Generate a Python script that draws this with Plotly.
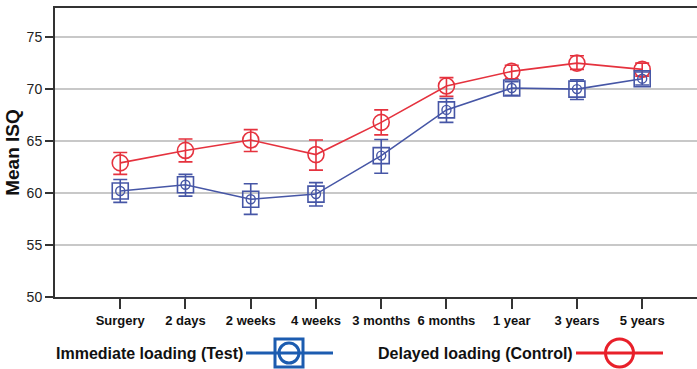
import plotly.graph_objects as go

categories = ["Surgery", "2 days", "2 weeks", "4 weeks", "3 months", "6 months", "1 year", "3 years", "5 years"]

delayed_mean = [62.9, 64.1, 65.1, 63.7, 66.8, 70.3, 71.7, 72.5, 71.9]
delayed_upper = [63.9, 65.2, 66.1, 65.1, 68.0, 71.1, 72.3, 73.2, 72.5]
delayed_lower = [61.8, 63.0, 64.0, 62.2, 65.6, 69.3, 71.0, 71.9, 71.25]

immediate_mean = [60.2, 60.8, 59.4, 59.9, 63.6, 68.0, 70.1, 70.0, 71.0]
immediate_upper = [61.3, 61.8, 60.9, 61.0, 65.15, 69.1, 70.7, 70.9, 71.65]
immediate_lower = [59.1, 59.7, 57.95, 58.75, 61.9, 66.8, 69.4, 69.0, 70.4]

y_ticks = [50, 55, 60, 65, 70, 75]

RED = "#e5323e"
BLUE = "#4656a6"
LEG_RED = "#e8202a"
LEG_BLUE = "#1c5cb0"
FONT = "Liberation Sans, Arial, sans-serif"

fig = go.Figure()

def add_series(mean, upper, lower, color, symbol, size, inner=None):
    plus = [u - m for u, m in zip(upper, mean)]
    minus = [m - l for m, l in zip(mean, lower)]
    fig.add_trace(go.Scatter(
        x=categories, y=mean, mode="lines+markers",
        line=dict(color=color, width=1.6),
        marker=dict(symbol=symbol, size=size, color=color,
                    line=dict(color=color, width=1.6)),
        error_y=dict(type="data", symmetric=False, array=plus, arrayminus=minus,
                     color=color, thickness=1.6, width=7),
        showlegend=False, hoverinfo="skip"))
    if inner:
        fig.add_trace(go.Scatter(
            x=categories, y=mean, mode="markers",
            marker=dict(symbol="circle-open", size=inner, color=color,
                        line=dict(color=color, width=1.4)),
            showlegend=False, hoverinfo="skip"))

add_series(delayed_mean, delayed_upper, delayed_lower, RED, "circle-open", 16)
add_series(immediate_mean, immediate_upper, immediate_lower, BLUE, "square-open", 16, inner=9)

W, H = 697, 369
L, R, T, B = 55, 0, 8, 72
pw, ph = W - L - R, H - T - B

def px(x):
    return (x - L) / pw

def py(y):
    return (H - B - y) / ph

ly = py(353)
shapes = []
annotations = []
# legend item 1
annotations.append(dict(xref="paper", yref="paper", x=px(245), y=ly, xanchor="right", yanchor="middle",
                        text="<b>Immediate loading (Test)</b>", showarrow=False,
                        font=dict(family=FONT, size=16, color="#111")))
shapes.append(dict(type="line", xref="paper", yref="paper", x0=px(246), x1=px(333), y0=ly, y1=ly,
                   line=dict(color=LEG_BLUE, width=3)))
shapes.append(dict(type="rect", xref="paper", yref="paper", xsizemode="pixel", ysizemode="pixel",
                   xanchor=px(289), yanchor=ly, x0=-14, x1=14, y0=-14, y1=14,
                   line=dict(color=LEG_BLUE, width=3)))
shapes.append(dict(type="circle", xref="paper", yref="paper", xsizemode="pixel", ysizemode="pixel",
                   xanchor=px(289), yanchor=ly, x0=-10, x1=10, y0=-10, y1=10,
                   line=dict(color=LEG_BLUE, width=3)))
# legend item 2
annotations.append(dict(xref="paper", yref="paper", x=px(575), y=ly, xanchor="right", yanchor="middle",
                        text="<b>Delayed loading (Control)</b>", showarrow=False,
                        font=dict(family=FONT, size=16, color="#111")))
shapes.append(dict(type="line", xref="paper", yref="paper", x0=px(576), x1=px(663), y0=ly, y1=ly,
                   line=dict(color=LEG_RED, width=3)))
shapes.append(dict(type="circle", xref="paper", yref="paper", xsizemode="pixel", ysizemode="pixel",
                   xanchor=px(619.5), yanchor=ly, x0=-14, x1=14, y0=-14, y1=14,
                   line=dict(color=LEG_RED, width=3)))

fig.update_layout(
    width=W, height=H,
    margin=dict(l=L, r=R, t=T, b=B, pad=0),
    paper_bgcolor="white", plot_bgcolor="white",
    font=dict(family=FONT, color="#111"),
    shapes=shapes, annotations=annotations,
    xaxis=dict(type="category", range=[-1, 8.84], showgrid=False,
               showline=True, linecolor="#333", linewidth=2, mirror=True,
               ticks="outside", ticklen=10, tickwidth=1.5, tickcolor="#333",
               tickfont=dict(family=FONT, size=13, color="#111"),
               tickprefix="<b>", ticksuffix="</b>", zeroline=False),
    yaxis=dict(range=[50, 77.8], tickvals=y_ticks, showgrid=True,
               gridcolor="#c8c8c8", gridwidth=1.5,
               showline=True, linecolor="#333", linewidth=2, mirror=False,
               ticks="outside", ticklen=8, tickwidth=1.5, tickcolor="#333",
               tickfont=dict(family=FONT, size=14, color="#222"), zeroline=False,
               title=dict(text="<b>Mean ISQ</b>", font=dict(family=FONT, size=19, color="#111"),
                          standoff=2)),
)

fig.write_html("out.html")
